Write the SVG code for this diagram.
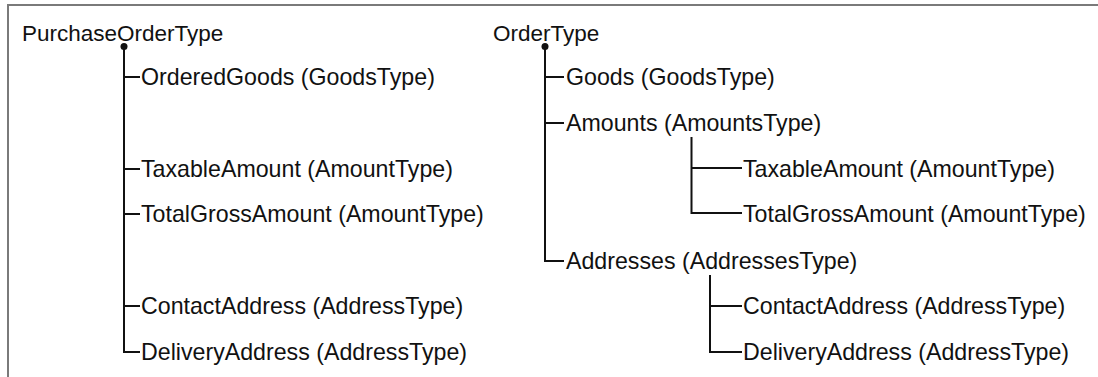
<svg xmlns="http://www.w3.org/2000/svg" width="1098" height="377" viewBox="0 0 1098 377">
<style>
text{font-family:"Liberation Sans",Arial,sans-serif;font-size:23.2px;fill:#111}
text.root{font-size:22.5px}
.ln{fill:none;stroke:#111;stroke-width:2}
.frame{fill:none;stroke:#7a7a7a;stroke-width:2}
</style>
<rect width="1098" height="377" fill="#fff"/>
<path class="frame" d="M8,377 V5 H1098"/>
<g id="connectors">
<circle cx="124" cy="46.5" r="3.5" fill="#111"/>
<path class="ln" d="M124,46 V352 H140 M124,77 H140 M124,169 H140 M124,214 H140 M124,306 H140"/>
<circle cx="545" cy="46.5" r="3.5" fill="#111"/>
<path class="ln" d="M545,46 V261 H564 M545,77 H564 M545,123 H564"/>
<path class="ln" d="M691.5,137 V213 H742 M691.5,168 H742"/>
<path class="ln" d="M710,275 V352 H742 M710,306 H742"/>
</g>
<g id="PurchaseOrderType"><text class="root" x="22" y="41">PurchaseOrderType</text></g>
<g id="p-OrderedGoods"><text x="141" y="85">OrderedGoods (GoodsType)</text></g>
<g id="p-TaxableAmount"><text x="141" y="177">TaxableAmount (AmountType)</text></g>
<g id="p-TotalGrossAmount"><text x="141" y="222">TotalGrossAmount (AmountType)</text></g>
<g id="p-ContactAddress"><text x="141" y="314">ContactAddress (AddressType)</text></g>
<g id="p-DeliveryAddress"><text x="141" y="360">DeliveryAddress (AddressType)</text></g>
<g id="OrderType"><text class="root" x="493" y="41">OrderType</text></g>
<g id="o-Goods"><text x="566" y="85">Goods (GoodsType)</text></g>
<g id="o-Amounts"><text x="566" y="131">Amounts (AmountsType)</text></g>
<g id="o-TaxableAmount"><text x="743" y="177">TaxableAmount (AmountType)</text></g>
<g id="o-TotalGrossAmount"><text x="743" y="222">TotalGrossAmount (AmountType)</text></g>
<g id="o-Addresses"><text x="566" y="269">Addresses (AddressesType)</text></g>
<g id="o-ContactAddress"><text x="743" y="314">ContactAddress (AddressType)</text></g>
<g id="o-DeliveryAddress"><text x="743" y="360">DeliveryAddress (AddressType)</text></g>
</svg>
